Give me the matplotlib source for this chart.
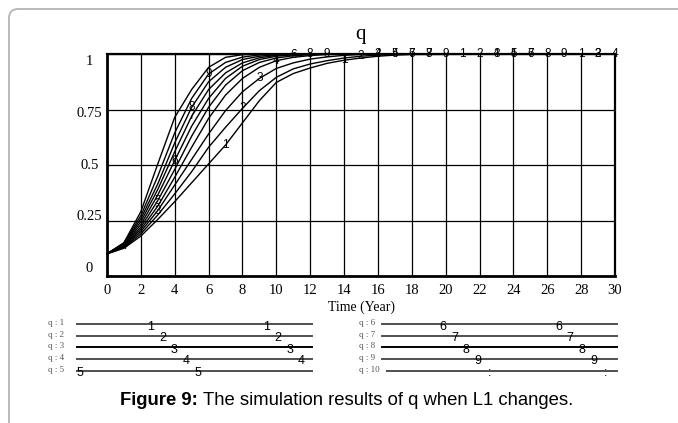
import numpy as np
import matplotlib
matplotlib.use("Agg")
import matplotlib.pyplot as plt
from matplotlib.patches import FancyBboxPatch
from matplotlib.transforms import IdentityTransform, blended_transform_factory

# simulation output of q, one run per value of L1
years = [0, 1, 2, 3, 4, 5, 6, 7, 8, 9, 10, 11, 12, 13, 14, 15, 16, 17, 18, 30]
q1 = [0.10, 0.125, 0.18, 0.255, 0.335, 0.42, 0.505, 0.59, 0.69, 0.79, 0.872, 0.912, 0.937, 0.958, 0.972, 0.982, 0.99, 0.995, 0.998, 1.0]
q2 = [0.10, 0.128, 0.19, 0.275, 0.37, 0.47, 0.58, 0.67, 0.755, 0.835, 0.895, 0.933, 0.955, 0.97, 0.982, 0.99, 0.995, 0.998, 1.0, 1.0]
q3 = [0.10, 0.131, 0.20, 0.295, 0.41, 0.525, 0.64, 0.745, 0.83, 0.89, 0.935, 0.96, 0.977, 0.987, 0.994, 0.998, 1.0, 1.0, 1.0, 1.0]
q4 = [0.10, 0.134, 0.21, 0.315, 0.445, 0.58, 0.71, 0.815, 0.89, 0.94, 0.97, 0.985, 0.993, 0.998, 1.0, 1.0, 1.0, 1.0, 1.0, 1.0]
q5 = [0.10, 0.137, 0.22, 0.34, 0.48, 0.63, 0.76, 0.86, 0.925, 0.962, 0.982, 0.992, 0.997, 1.0, 1.0, 1.0, 1.0, 1.0, 1.0, 1.0]
q6 = [0.10, 0.14, 0.232, 0.365, 0.52, 0.675, 0.80, 0.89, 0.945, 0.975, 0.99, 0.996, 1.0, 1.0, 1.0, 1.0, 1.0, 1.0, 1.0, 1.0]
q7 = [0.10, 0.143, 0.245, 0.39, 0.56, 0.72, 0.84, 0.915, 0.96, 0.983, 0.994, 1.0, 1.0, 1.0, 1.0, 1.0, 1.0, 1.0, 1.0, 1.0]
q8 = [0.10, 0.145, 0.258, 0.415, 0.60, 0.76, 0.875, 0.94, 0.975, 0.99, 0.997, 1.0, 1.0, 1.0, 1.0, 1.0, 1.0, 1.0, 1.0, 1.0]
q9 = [0.10, 0.148, 0.272, 0.45, 0.645, 0.80, 0.91, 0.962, 0.986, 0.996, 1.0, 1.0, 1.0, 1.0, 1.0, 1.0, 1.0, 1.0, 1.0, 1.0]
q10 = [0.10, 0.15, 0.29, 0.505, 0.715, 0.84, 0.94, 0.985, 0.997, 1.0, 1.0, 1.0, 1.0, 1.0, 1.0, 1.0, 1.0, 1.0, 1.0, 1.0]
runs = [q1, q2, q3, q4, q5, q6, q7, q8, q9, q10]
run_names = ["q : 1", "q : 2", "q : 3", "q : 4", "q : 5",
             "q : 6", "q : 7", "q : 8", "q : 9", "q : 10"]
run_marks = ["1", "2", "3", "4", "5", "6", "7", "8", "9", ":"]

# (run number, year) where Vensim printed the run number on the curve
curve_labels = [(4, 1), (3, 3), (5, 3), (6, 4), (7, 5), (8, 5), (9, 6), (1, 7), (2, 8),
                (3, 9), (4, 10), (6, 11), (8, 12), (9, 13), (1, 14), (2, 15), (3, 16),
                (4, 16), (5, 17), (4, 17), (6, 18), (7, 18), (8, 19), (7, 19), (9, 20),
                (1, 21), (2, 22), (3, 23), (4, 23), (5, 24), (4, 24), (6, 25), (7, 25),
                (8, 26), (9, 27), (1, 28), (2, 29), (3, 29), (4, 30)]

x_ticks = list(range(0, 31, 2))
y_ticks = [0, 0.25, 0.5, 0.75, 1]
y_tick_labels = ["0", "0.25", "0.5", "0.75", "1"]

SERIF = "Liberation Serif"
SANS = "Liberation Sans"
W, H = 678, 423

fig = plt.figure(figsize=(W / 100, H / 100), dpi=100)

# page frame (rounded corner top-left)
frame = FancyBboxPatch((9, -30), 720, H - 9 + 30, boxstyle="round,pad=0,rounding_size=9",
                       transform=IdentityTransform(), fc="none", ec="#b5b5b5", lw=1.3)
fig.patches.append(frame)

ax = fig.add_axes([107 / W, 1 - 276 / H, 508 / W, 222 / H])
for y in runs:
    ax.plot(years, y, color="black", lw=1.0, clip_on=False)

for run, t in curve_labels:
    yv = np.interp(t, years, runs[run - 1])
    ax.text(t, yv, run_marks[run - 1], fontsize=8.5, family=SANS,
            ha="center", va="center", color="black")

ax.set_xlim(0, 30)
ax.set_ylim(0, 1)
ax.set_xticks(x_ticks)
ax.set_xticklabels([str(v) for v in x_ticks], family=SERIF, fontsize=10.5)
ax.set_yticks(y_ticks)
ax.set_yticklabels([])
ax.tick_params(length=0, pad=6)
ax.grid(True, color="black", lw=0.9)
for side, lw in [("left", 2), ("bottom", 2), ("right", 1.6), ("top", 1.6)]:
    ax.spines[side].set_linewidth(lw)

# Vensim spaces the y labels evenly but slightly off the grid lines
ylab_tr = blended_transform_factory(ax.transAxes, ax.transAxes)
for i, lab in enumerate(y_tick_labels):
    ax.text(-0.035, 0.036 + i * 0.232, lab, transform=ylab_tr, family=SERIF,
            fontsize=10.5, ha="center", va="center")

ax.set_title("q", family=SERIF, fontsize=15, pad=11)
ax.set_xlabel("Time (Year)", family=SERIF, fontsize=10, labelpad=2)

# legend block under the chart, laid out in pixels
lg = fig.add_axes([0, 0, 1, 1], facecolor="none")
lg.set_xlim(0, W)
lg.set_ylim(H, 0)
lg.axis("off")
row_y = [324, 335.7, 347.3, 359, 370.7]
for i, name in enumerate(run_names):
    col, row = divmod(i, 5)
    y = row_y[row]
    if col == 0:
        x0, x1, name_x, m1 = 77, 312, 48, 151
    else:
        x0, x1, name_x, m1 = 382, 617, 359, 443
    if i == 9:
        x0 = 387
    lc = "black" if row == 2 else "#505050"
    lg.plot([x0, x1], [y, y], color=lc, lw=1.4)
    lg.text(name_x, y - 1, name, family=SERIF, fontsize=6.5, color="#555555",
            ha="left", va="center")
    for xm in (m1 + row * 11.7, m1 + row * 11.7 + 115.5):
        if xm > x1:
            xm -= 233
        lg.text(xm, y + 2.5, run_marks[i], family=SANS, fontsize=9,
                ha="center", va="center", color="black")

fig.text(120 / W, 1 - 400 / H, "Figure 9:", family=SANS, fontsize=13.3,
         fontweight="bold", ha="left", va="center")
fig.text(203 / W, 1 - 400 / H, "The simulation results of q when L1 changes.",
         family=SANS, fontsize=13.3, ha="left", va="center")

fig.savefig("out.png", dpi=100)
